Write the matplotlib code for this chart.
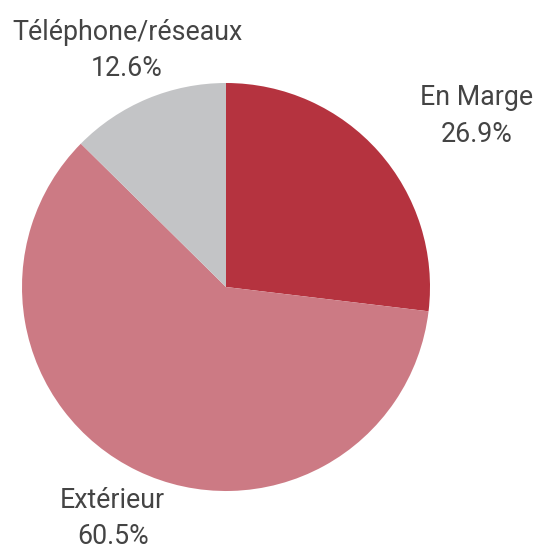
import matplotlib.pyplot as plt

labels = ["En Marge", "Extérieur", "Téléphone/réseaux"]
values = [26.9, 60.5, 12.6]
colors = ["#B5333F", "#CC7A84", "#C3C4C6"]

# label positions (data coords, radius = 1)
label_pos = [(1.23, 0.93), (-0.555, -1.045), (-0.485, 1.25)]

plt.rcParams["font.family"] = ["Roboto", "DejaVu Sans"]

fig = plt.figure(figsize=(5.35, 5.48), dpi=100)
ax = fig.add_axes([22 / 535, 57 / 548, 408 / 535, 408 / 548])

ax.pie(values, colors=colors, startangle=90, counterclock=False,
       radius=1, wedgeprops={"linewidth": 0})

for (x, y), name, v in zip(label_pos, labels, values):
    ax.text(x, y, name, ha="center", va="center", fontsize=19.3, color="#444444")
    ax.text(x, y - 0.18, f"{v}%", ha="center", va="center", fontsize=19.3, color="#444444")

ax.set_xlim(-1, 1)
ax.set_ylim(-1, 1)
ax.set_aspect("equal")
ax.axis("off")

fig.savefig("out.png", dpi=100)
